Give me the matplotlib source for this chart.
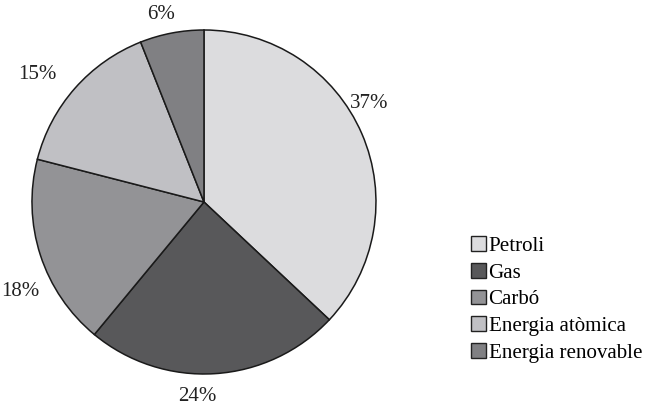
import numpy as np
import matplotlib.pyplot as plt
from matplotlib.patches import Patch

# fonts de energia (percentatges)
fonts = ['Petroli', 'Gas', 'Carbó', 'Energia atòmica', 'Energia renovable']
valors = [37, 24, 18, 15, 6]
colors = ['#dcdcde', '#58585a', '#939396', '#c0c0c4', '#808083']
etiquetes = ['37%', '24%', '18%', '15%', '6%']

# petit desplaçament de cada etiqueta (graus, distància relativa al radi)
desp_angle = [7.4, -5.6, 8, 4, 2]
desp_dist = [1.12, 1.13, 1.19, 1.22, 1.12]

plt.rcParams['font.family'] = ['Liberation Serif', 'DejaVu Serif']

fig = plt.figure(figsize=(6.46, 4.07), dpi=100)
ax = fig.add_axes([0.0495, 0.0811, 0.5325, 0.8452])

wedges, texts = ax.pie(valors, labels=etiquetes, colors=colors, startangle=90,
                       counterclock=False,
                       wedgeprops=dict(edgecolor='#1a1a1a', linewidth=1.1),
                       textprops=dict(fontsize=15, color='#222222'))
for w, t, da, dd in zip(wedges, texts, desp_angle, desp_dist):
    ang = np.deg2rad((w.theta1 + w.theta2) / 2 + da)
    t.set_position((dd * np.cos(ang), dd * np.sin(ang)))
    t.set_horizontalalignment('center')
    t.set_verticalalignment('center')
ax.set_xlim(-1, 1)
ax.set_ylim(-1, 1)
ax.set_aspect('equal')

handles = [Patch(facecolor=c, edgecolor='#222222', linewidth=1.0) for c in colors]
fig.legend(handles, fonts, loc='upper left', bbox_to_anchor=(0.729, 0.42),
           frameon=False, fontsize=15.1, handlelength=0.72, handleheight=0.72,
           handletextpad=0.12, labelspacing=0.33, borderpad=0, borderaxespad=0)

plt.savefig('out.png', dpi=100)
